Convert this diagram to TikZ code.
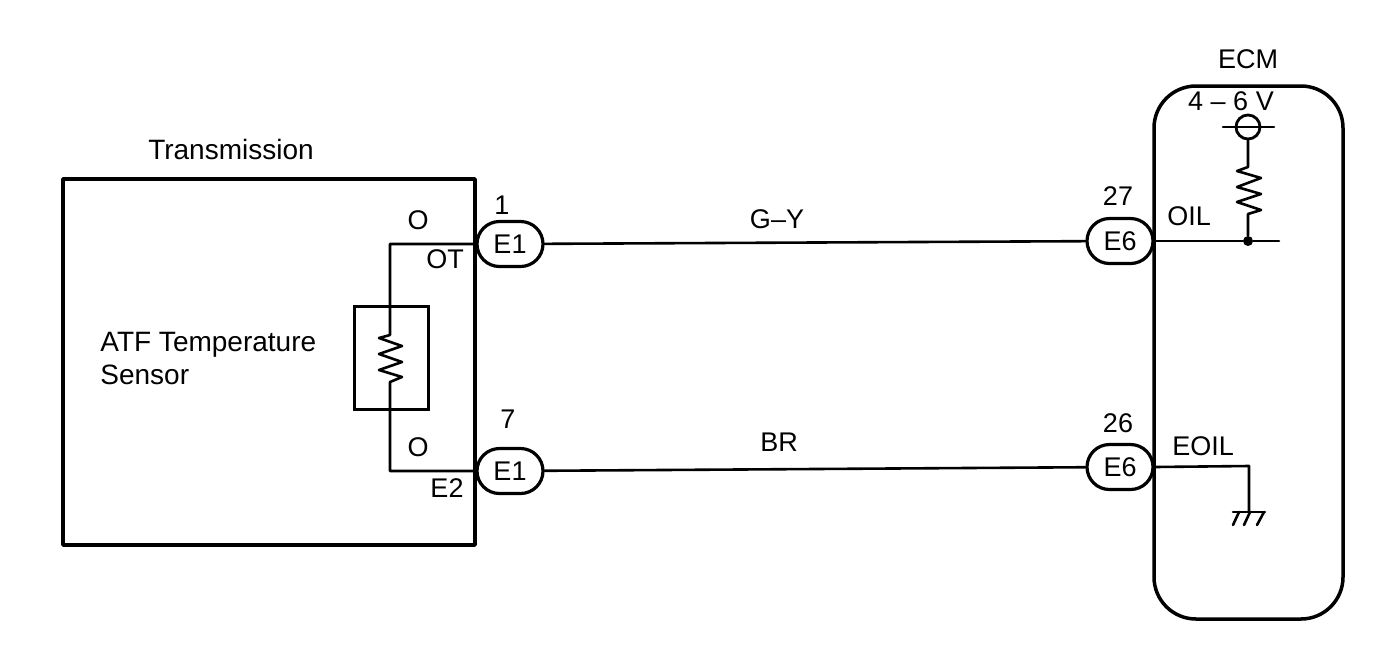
\documentclass[tikz,border=0pt]{standalone}
\usepackage{fontspec}
\setmainfont{Liberation Sans}
\usetikzlibrary{shapes.misc}
\begin{document}
\begin{tikzpicture}[x=0.5pt,y=-0.5pt,
  wire/.style={line width=1.3pt,line cap=round,line join=round},
  frame/.style={line width=1.75pt,line join=round},
  pill/.style={draw,line width=1.6pt,rounded rectangle,minimum width=33pt,minimum height=22.5pt,inner sep=0pt,font=\fontsize{13.5}{16}\selectfont,fill=white},
  lbl/.style={anchor=base,inner sep=0pt,font=\fontsize{13.5}{16}\selectfont},
  dot/.style={circle,fill=black,inner sep=0pt,minimum size=5pt}]
\useasboundingbox (0,0) rectangle (1392,644);
% enclosures
\draw[frame] (63,179) rectangle (475,545);
\draw[frame,rounded corners=21pt] (1154,86) rectangle (1343,619);
% pins
\node[pill] (p1) at (510,244) {E1};
\node[pill] (p7) at (510,471) {E1};
\node[pill] (p27) at (1120,241) {E6};
\node[pill] (p26) at (1120,467) {E6};
\draw[wire] (p1) -- (p27);
\draw[wire] (p7) -- (p26);
% sensor
\draw[line width=1.5pt] (354,306) rectangle (428,409);
\coordinate (st) at (390,244);
\coordinate (sb) at (390,471);
\draw[wire] (p1.west) -- (st) -- (390,335) -- (379,338) -- (402,346) -- (379,354) -- (402,362) -- (379,370) -- (402,377) -- (390,382) -- (sb) -- (p7.west);
% ECM pull-up
\node[draw,circle,line width=1.4pt,minimum size=12pt,inner sep=0pt] (meter) at (1248,127) {};
\coordinate (ml) at (1223,127);
\coordinate (mr) at (1274,127);
\draw[wire] (ml) -- (mr);
\node[dot] (junc) at (1248,241) {};
\coordinate (oilend) at (1279,241);
\draw[wire] (p27.east) -- (junc) -- (oilend);
\draw[wire] (meter.south) -- (1248,167) -- (1237,171) -- (1261,178) -- (1237,187) -- (1261,194) -- (1237,202) -- (1261,210) -- (1248,214) -- (junc);
% ground
\coordinate (gnd) at (1249,512);
\draw[wire] (p26.east) -- (1249,466) -- (gnd);
\draw[wire] (1233,512) -- (1265,512);
\draw[wire] (1239,512) -- (1233,525);
\draw[wire] (1250,512) -- (1244,525);
\draw[wire] (1264,512) -- (1257,525);
% labels
\node[lbl,font=\fontsize{14}{16}\selectfont] (t1) at (231,159) {Transmission};
\node[lbl] (t2) at (1248,68) {ECM};
\node[lbl] (t3) at (1231,110) {4 – 6 V};
\node[lbl] (t4) at (1189,225) {OIL};
\node[lbl] (t5) at (1118,205) {27};
\node[lbl] (t6) at (1118,432) {26};
\node[lbl] (t7) at (1203,455) {EOIL};
\node[lbl] (t8) at (777,228) {G–Y};
\node[lbl] (t9) at (779,451) {BR};
\node[lbl] (t10) at (502,214) {1};
\node[lbl] (t11) at (508,428) {7};
\node[lbl] (t12) at (418,229) {O};
\node[lbl] (t13) at (445,268) {OT};
\node[lbl] (t14) at (418,456) {O};
\node[lbl] (t15) at (447,497) {E2};
\node[anchor=base west,inner sep=0pt,align=left,font=\fontsize{14}{16.5}\selectfont] (t16) at (100,384) {ATF Temperature\\Sensor};
\end{tikzpicture}
\end{document}
